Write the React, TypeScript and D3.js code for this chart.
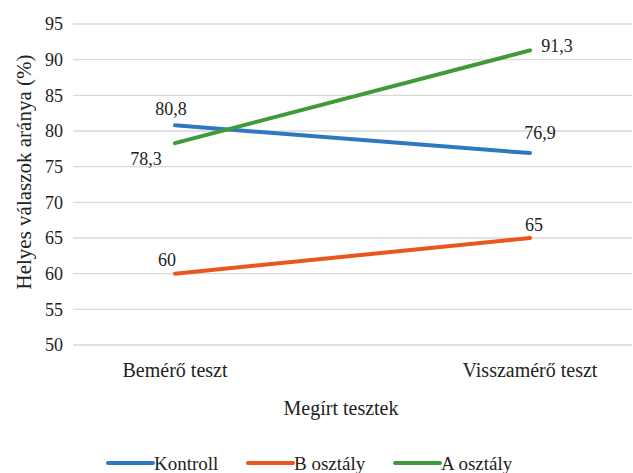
import React from "react";
import * as d3 from "d3";

const categories = ["Bemérő teszt", "Visszamérő teszt"];
const seriesNames = ["Kontroll", "B osztály", "A osztály"];
const kontroll = [80.8, 76.9];
const bOsztaly = [60, 65];
const aOsztaly = [78.3, 91.3];
const yTicks = [50, 55, 60, 65, 70, 75, 80, 85, 90, 95];
const colors = ["#2E78C2", "#E8581E", "#3F9A3A"];

const W = 633, H = 473;
const font = "'Liberation Serif', 'DejaVu Serif', 'Times New Roman', Tinos, serif";
const ts: React.CSSProperties = { fontFamily: font };

export default function App() {
  const y = d3.scaleLinear().domain([50, 95]).range([345, 24]);
  const x = d3.scalePoint<string>().domain(categories).range([175, 530]);
  const series = [kontroll, bOsztaly, aOsztaly];
  const line = d3.line<number>().x((_, i) => x(categories[i])!).y((d) => y(d));
  const labelOff = [
    [[-4, -17], [10, -20]],
    [[-8, -14], [4, -13]],
    [[-29, 16], [27, -5]],
  ];
  const legendX = [108, 248, 395];
  return (
    <svg
      width={W}
      height={H}
      style={{ position: "fixed", left: 0, top: 0, display: "block", background: "#fff", fontFamily: font }}
    >
      {yTicks.map((t) => (
        <g key={t}>
          <line x1={73} x2={632} y1={y(t)} y2={y(t)} stroke="#d9d9d9" strokeWidth={1.3} />
          <text x={63} y={y(t)} dy="0.35em" textAnchor="end" fontSize={18} fill="#222" style={ts}>
            {t}
          </text>
        </g>
      ))}
      {categories.map((c) => (
        <text key={c} x={x(c)!} y={377} textAnchor="middle" fontSize={20} fill="#222" style={ts}>
          {c}
        </text>
      ))}
      <text x={341} y={415} textAnchor="middle" fontSize={20} fill="#222" style={ts}>
        Megírt tesztek
      </text>
      <text
        transform={`translate(31,172) rotate(-90)`}
        textAnchor="middle"
        fontSize={21}
        fill="#222"
        style={ts}
      >
        Helyes válaszok aránya (%)
      </text>
      {series.map((s, si) => (
        <path key={si} d={line(s)!} fill="none" stroke={colors[si]} strokeWidth={4} strokeLinecap="round" />
      ))}
      {series.map((s, si) =>
        s.map((v, i) => (
          <text
            key={`${si}-${i}`}
            x={x(categories[i])! + labelOff[si][i][0]}
            y={y(v) + labelOff[si][i][1]}
            dy="0.35em"
            textAnchor="middle"
            fontSize={18}
            fill="#222"
            style={ts}
          >
            {String(v).replace(".", ",")}
          </text>
        ))
      )}
      {seriesNames.map((n, i) => (
        <g key={n}>
          <line x1={legendX[i]} x2={legendX[i] + 45} y1={463} y2={463} stroke={colors[i]} strokeWidth={4} strokeLinecap="round" />
          <text x={legendX[i] + 46} y={463} dy="0.35em" fontSize={19} fill="#222" style={ts}>
            {n}
          </text>
        </g>
      ))}
    </svg>
  );
}
